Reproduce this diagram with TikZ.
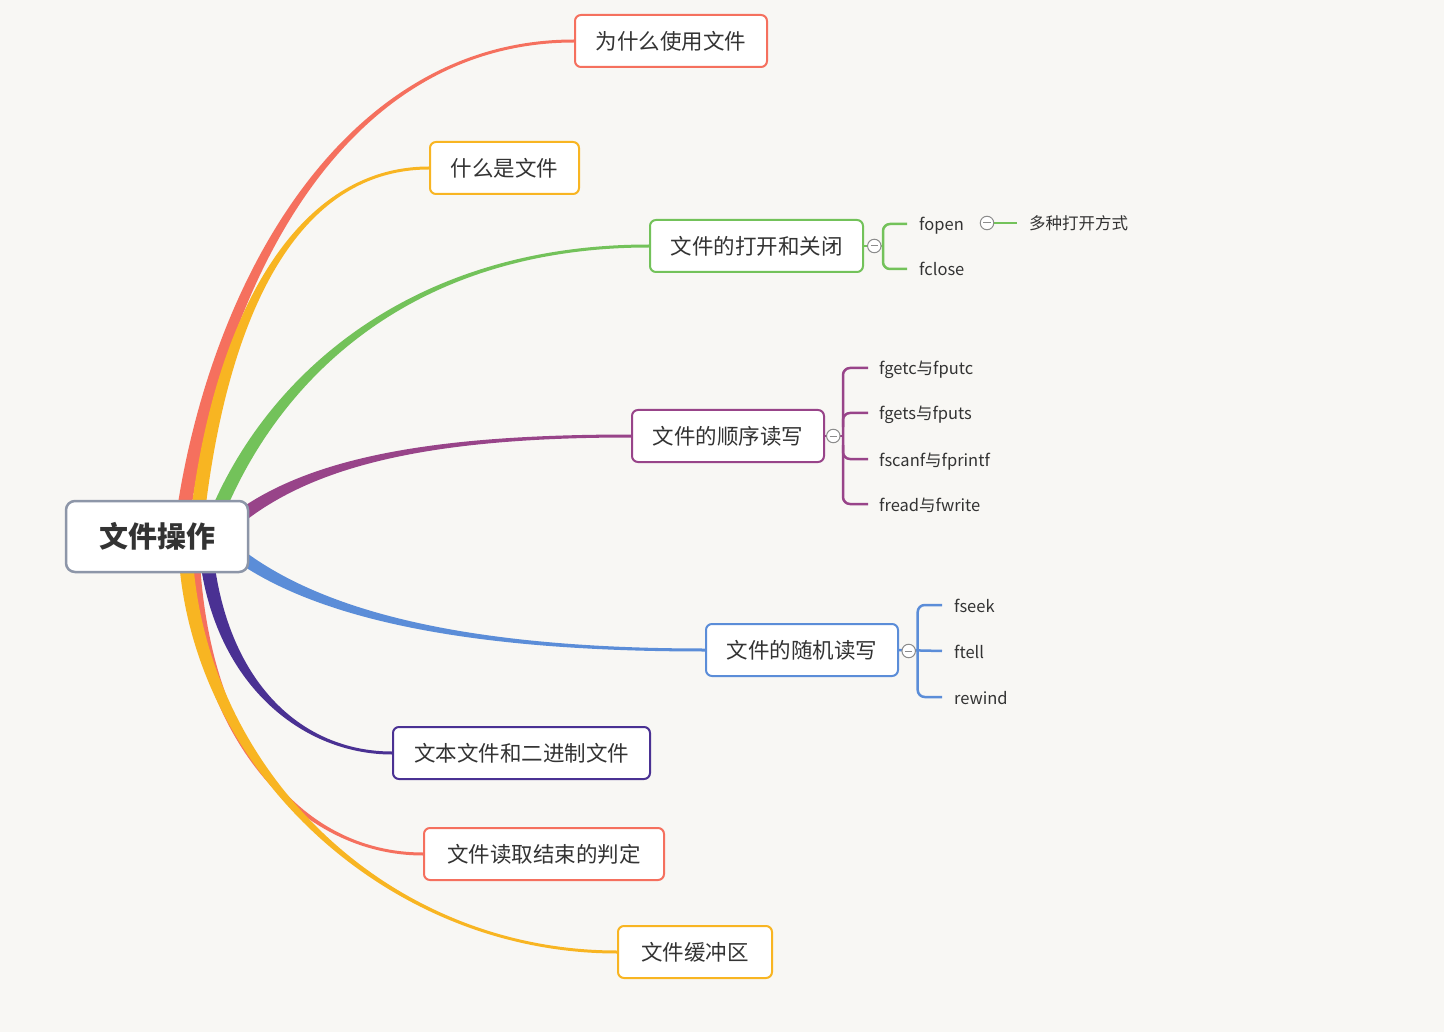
\documentclass[tikz,border=0pt]{standalone}
\usepackage{fontspec}
\setmainfont{Noto Sans CJK SC}
\usetikzlibrary{calc}
\definecolor{bgc}{HTML}{F8F7F4}
\definecolor{cred}{HTML}{F5705E}
\definecolor{cyel}{HTML}{F8B522}
\definecolor{cgrn}{HTML}{73C25A}
\definecolor{cpur}{HTML}{984489}
\definecolor{cblu}{HTML}{5B8DD8}
\definecolor{cdpu}{HTML}{4A3193}
\definecolor{rootb}{HTML}{8D96A8}
\definecolor{txt}{HTML}{333333}
\definecolor{collg}{HTML}{8C8C8C}
\pgfdeclarelayer{back}
\pgfdeclarelayer{links}
\pgfsetlayers{back,links,main}
\newcommand\taper[7]{%
  \path ($(#2)!#6!90:(#3)$) coordinate (tA)
        ($(#2)!#6!-90:(#3)$) coordinate (tB)
        ($(#5)!#7!-90:(#4)$) coordinate (tC)
        ($(#5)!#7!90:(#4)$) coordinate (tD);
  \fill[#1] (tA) .. controls ($(#3)+(tA)-(#2)$) and ($(#4)+(tC)-(#5)$) .. (tC)
     -- (tD) .. controls ($(#4)+(tD)-(#5)$) and ($(#3)+(tB)-(#2)$) .. (tB) -- cycle;}
\tikzset{
  topic/.style={draw=#1, line width=2pt, rounded corners=6pt, fill=white,
    minimum height=52pt, inner xsep=0pt, font=\fontsize{21.5}{26}\selectfont, text=txt},
  rootbox/.style={draw=rootb, line width=2.5pt, rounded corners=9pt, fill=white,
    minimum width=182pt, minimum height=71pt, font=\fontsize{29}{34}\selectfont\bfseries, text=txt},
  sub/.style={anchor=west, inner sep=0pt, font=\fontsize{16.5}{20}\selectfont, text=txt,
    text height=14pt, text depth=0pt},
  coll/.style={circle, draw=collg, fill=white, line width=1pt, minimum size=13.5pt, inner sep=0pt,
    path picture={\draw[collg, line width=1pt] ($(path picture bounding box.west)+(3,0)$) -- ($(path picture bounding box.east)+(-3,0)$);}},
  brk/.style={draw=#1, line width=2.5pt, rounded corners=7pt},
}
\begin{document}
\begin{tikzpicture}[x=1pt,y=-1pt]
\useasboundingbox (0,0) rectangle (1444,1032);
\begin{pgfonlayer}{back}
\fill[bgc] (0,0) rectangle (1444,1032);
\end{pgfonlayer}

% root and main topics
\node[rootbox] (root) at (157,536.5) {文件操作};
\node[topic=cred, minimum width=192pt] (n1) at (671,41) {为什么使用文件};
\node[topic=cyel, minimum width=149pt] (n2) at (504.5,168) {什么是文件};
\node[topic=cgrn, minimum width=213pt] (n3) at (756.5,246) {文件的打开和关闭};
\node[topic=cpur, minimum width=192pt] (n4) at (728,436) {文件的顺序读写};
\node[topic=cblu, minimum width=192pt] (n5) at (802,650) {文件的随机读写};
\node[topic=cdpu, minimum width=257pt] (n6) at (521.5,753) {文本文件和二进制文件};
\node[topic=cred, minimum width=240pt] (n7) at (544,854) {文件读取结束的判定};
\node[topic=cyel, minimum width=154pt] (n8) at (695,952) {文件缓冲区};

% start points of branches (behind the root)
\coordinate (s1) at ($(root.center)+(23,3.5)$);
\coordinate (s2) at ($(root.center)+(38,3.5)$);
\coordinate (s3) at ($(root.center)+(50,3.5)$);
\coordinate (s4) at ($(root.center)+(43,18.5)$);
\coordinate (s5) at ($(root.center)+(43,-16.5)$);
\coordinate (s6) at ($(root.center)+(48,3.5)$);
\coordinate (s7) at ($(root.center)+(35,3.5)$);
\coordinate (s8) at ($(root.center)+(28,3.5)$);

\begin{pgfonlayer}{links}
\taper{cred}{s1}{208,300}{335,41}{n1.west}{7pt}{1.5pt}
\taper{cyel}{s2}{215,330}{290,168}{n2.west}{7pt}{1.5pt}
\taper{cgrn}{s3}{258,390}{400,246}{n3.west}{7pt}{1.5pt}
\taper{cpur}{s4}{270,470}{400,436}{n4.west}{7pt}{1.5pt}
\taper{cblu}{s5}{270,600}{420,650}{n5.west}{7pt}{1.5pt}
\taper{cdpu}{s6}{215,680}{300,753}{n6.west}{7pt}{1.5pt}
\taper{cred}{s7}{197,740}{300,854}{n7.west}{7pt}{1.5pt}
\taper{cyel}{s8}{190,760}{380,952}{n8.west}{7pt}{1.5pt}
\end{pgfonlayer}

% --- green subtopics
\node[sub] (fopen) at (919,224) {fopen};
\node[sub] (fclose) at (919,269) {fclose};
\node[sub] (multi) at (1029,223) {多种打开方式};
\coordinate (gv) at (883,246);
\draw[brk=cgrn] ($(fopen.west)+(-12,0)$) -| (gv) |- ($(fclose.west)+(-12,0)$);
\draw[brk=cgrn] (n3.east) -- (gv);
\node[coll] (g0) at (874.3,246) {};
\node[coll] (g1) at (987,223) {};
\draw[brk=cgrn] (g1.east) -- ($(multi.west)+(-12,0)$);

% --- purple subtopics
\node[sub] (q1) at (879,368) {fgetc与fputc};
\node[sub] (q2) at (879,413) {fgets与fputs};
\node[sub] (q3) at (879,459) {fscanf与fprintf};
\node[sub] (q4) at (879,504) {fread与fwrite};
\coordinate (pv) at (843,436);
\draw[brk=cpur] ($(q1.west)+(-11,0)$) -| (pv) |- ($(q4.west)+(-11,0)$);
\draw[brk=cpur] ($(q2.west)+(-11,0)$) -| ($(pv)+(0,-9)$);
\draw[brk=cpur] ($(q3.west)+(-11,0)$) -| ($(pv)+(0,9)$);
\draw[brk=cpur] (n4.east) -- (pv);
\node[coll] (p0) at (833.3,436) {};

% --- blue subtopics
\node[sub] (r1) at (954,605) {fseek};
\node[sub] (r2) at (954,651) {ftell};
\node[sub] (r3) at (954,697) {rewind};
\coordinate (bv) at (917.7,651);
\draw[brk=cblu] ($(r1.west)+(-12,0)$) -| (bv) |- ($(r3.west)+(-12,0)$);
\draw[brk=cblu] (n5.east) -- ($(r2.west)+(-12,0)$);
\node[coll] (b0) at (908.7,651) {};
\end{tikzpicture}
\end{document}
